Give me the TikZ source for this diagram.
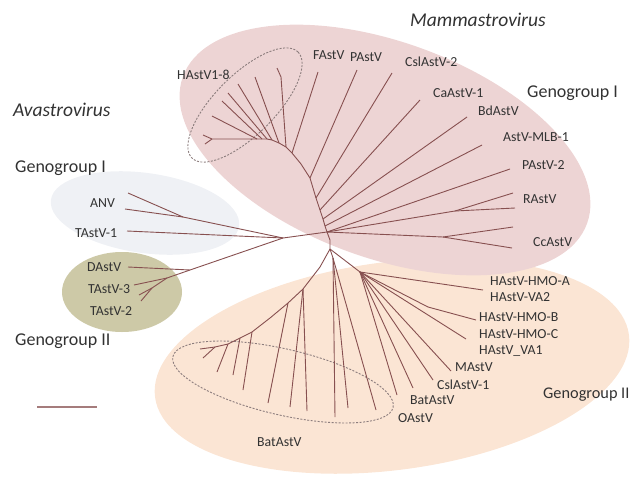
\documentclass[tikz,border=0pt]{standalone}
\usepackage{fontspec}
\setmainfont{Carlito}
\usepackage{tikz}
\usepackage{xcolor}
\definecolor{mamI}{RGB}{237,212,212}
\definecolor{mamII}{RGB}{251,229,212}
\definecolor{avaI}{RGB}{239,241,245}
\definecolor{avaII}{RGB}{205,201,167}
\definecolor{twig}{RGB}{135,80,80}
\definecolor{ink}{RGB}{50,50,50}
\definecolor{dashgray}{RGB}{140,125,125}

\begin{document}
\begin{tikzpicture}
  [x=1pt,y=-1pt,
   branch/.style={draw=twig,line width=0.9pt,line join=round},
   leaflab/.style={inner sep=0pt,text=ink,text depth=0pt,anchor=west,font=\fontsize{13.8}{15}\selectfont},
   group/.style={inner sep=0pt,text=ink,text depth=0pt,anchor=west,font=\fontsize{18}{20}\selectfont},
   genus/.style={group,font=\fontsize{19.5}{21}\selectfont\itshape},
   clade/.style={draw=dashgray,dash pattern=on 2pt off 1.5pt,line width=0.9pt},
  ]
  \useasboundingbox (0,0) rectangle (635,483);

  \fill[mamII,rotate around={7.5:(392,366)}] (392,366) ellipse [x radius=239pt,y radius=104pt];
  \fill[mamI,rotate around={-20:(385,150)}] (385,150) ellipse [x radius=215pt,y radius=108pt];
  \fill[avaI,rotate around={-8:(145,213)}] (145,213) ellipse [x radius=95pt,y radius=40pt];
  \fill[avaII] (122,292) ellipse [x radius=60pt,y radius=40pt];
  \draw[clade,rotate around={45:(245,105)}] (245,105) ellipse [x radius=75pt,y radius=30pt];
  \draw[clade,rotate around={-13:(283,382)}] (283,382) ellipse [x radius=113pt,y radius=33pt];

  % Mammastrovirus genogroup I
  \foreach \n/\x/\y in {hub/327/232, t1/325/226, t2/323/219, t3/320/210, t4/316/198,
      t5/310/178, t6/301/164, t7/292/153, t8/286/147, t9/279/143, t10/272/140,
      t11/267/139, t12/262/139, t13/257/139, yj/212/139, y1/203/135, y2/205/144,
      fa/318/72, pa/357/70, cs2/392/73, ca/420/100, bd/467/117, mlb/482/145,
      pa2/510/169, rf/455/211, ra1/513/193, ra2/515/208, cf/443/237, cc1/513/227,
      cc2/512/248, h1/212/116, h2/222/101, h3/228/93, h4/238/84, h5/255/77,
      k6/281/77, h6/277/68}
    \coordinate (\n) at (\x,\y);
  \draw[branch] (hub) -- (t1) -- (t2) -- (t3) -- (t4) -- (t5) -- (t6) -- (t7)
    -- (t8) -- (t9) -- (t10) -- (t11) -- (t12) -- (t13) -- (yj);
  \path[branch] (t7) edge (fa)  (t5) edge (pa)  (t4) edge (cs2)  (t3) edge (ca)
    (t2) edge (bd)  (t1) edge (mlb)  (hub) edge (pa2)
    (hub) edge (rf)  (rf) edge (ra1)  (rf) edge (ra2)
    (hub) edge (cf)  (cf) edge (cc1)  (cf) edge (cc2)
    (yj) edge (y1)  (yj) edge (y2)  (t13) edge (h1)  (t12) edge (h2)
    (t11) edge (h3)  (t10) edge (h4)  (t9) edge (h5);
  \draw[branch] (t8) -- (k6) -- (h6);

  % Avastrovirus
  \foreach \n/\x/\y in {a0/283/238, tk1/127/231, af/183/217, anv1/128/193,
      anv2/125/209, b1/190/270, dtip/128/267, b2/167/278, t3tip/134/285,
      b3/152/288, t2a/139/295, t2b/141/301}
    \coordinate (\n) at (\x,\y);
  \path[branch] (hub) edge (a0)  (a0) edge (tk1)  (a0) edge (af)  (af) edge (anv1)
    (af) edge (anv2)  (a0) edge (b1)  (b1) edge (dtip)  (b1) edge (b2)
    (b2) edge (t3tip)  (b2) edge (b3)  (b3) edge (t2a)  (b3) edge (t2b);

  % Mammastrovirus genogroup II
  \foreach \n/\x/\y in {hb/330/240, n1/330/249, n1a/333/258, lv1/335/417,
      lv2/348/408, lv3/376/410, n2/360/272, hmoA/483/290, sb/428/307, hmoB/476/320,
      hmoC/466/339, ma/451/371, cs1/433/380, bt/413/388, ba/397/395,
      s1/320/267, s2/303/289, s3/288/303, s3b/270/318, s4/252/332, s5/240/338,
      s6/228/344, s7/215/347, s8/200/349, q1/290/407, q2/307/411, q3/268/403,
      q4/243/390, q5/233/375, q6/217/372, q7/203/358}
    \coordinate (\n) at (\x,\y);
  \draw[branch] (hub) -- (hb) -- (n1) -- (n1a);
  \draw[branch] (n1) -- (s1) -- (s2) -- (s3) -- (s3b) -- (s4) -- (s5) -- (s6)
    -- (s7) -- (s8);
  \draw[branch] (n2) -- (sb) -- (hmoB);
  \path[branch] (n1a) edge (lv1)  (n1a) edge (lv2)  (n1a) edge (lv3)  (n1) edge (n2)
    (n2) edge (hmoA)  (n2) edge (hmoC)  (n2) edge (ma)  (n2) edge (cs1)
    (n2) edge (bt)  (n2) edge (ba)
    (s2) edge (q1)  (s2) edge (q2)  (s3) edge (q3)  (s4) edge (q4)
    (s5) edge (q5)  (s6) edge (q6)  (s7) edge (q7);

  % scale bar
  \coordinate (bar1) at (37,407);
  \coordinate (bar2) at (97,407);
  \draw[draw=twig!75,line width=1.1pt] (bar1) -- (bar2);

  \node[genus] (mam) at (410,20) {Mammastrovirus};
  \node[genus] (ava) at (13,110) {Avastrovirus};
  \node[group] (gmI) at (527,92) {Genogroup I};
  \node[group,font=\fontsize{16.3}{18}\selectfont] (gmII) at (543,393) {Genogroup II};
  \node[group] (gaI) at (15,167) {Genogroup I};
  \node[group] (gaII) at (15,340) {Genogroup II};

  \node[leaflab] (lh18) at (177,75) {HAstV1-8};
  \node[leaflab] (lfa) at (313,55) {FAstV};
  \node[leaflab] (lpa) at (350,57) {PAstV};
  \node[leaflab] (lcs2) at (405,62) {CslAstV-2};
  \node[leaflab] (lca) at (433,93) {CaAstV-1};
  \node[leaflab] (lbd) at (478,111) {BdAstV};
  \node[leaflab] (lmlb) at (503,137) {AstV-MLB-1};
  \node[leaflab] (lpa2) at (522,165) {PAstV-2};
  \node[leaflab] (lra) at (523,199) {RAstV};
  \node[leaflab] (lcc) at (533,242) {CcAstV};
  \node[leaflab] (lhmoA) at (490,281) {HAstV-HMO-A};
  \node[leaflab] (lva2) at (490,297) {HAstV-VA2};
  \node[leaflab] (lhmoB) at (479,317) {HAstV-HMO-B};
  \node[leaflab] (lhmoC) at (479,334) {HAstV-HMO-C};
  \node[leaflab] (lva1) at (479,350) {HAstV\_VA1};
  \node[leaflab] (lma) at (455,367) {MAstV};
  \node[leaflab] (lcs1) at (437,385) {CslAstV-1};
  \node[leaflab] (lba) at (410,400) {BatAstV};
  \node[leaflab] (loa) at (398,418) {OAstV};
  \node[leaflab] (lbat) at (257,442) {BatAstV};
  \node[leaflab] (lanv) at (90,203) {ANV};
  \node[leaflab] (ltk1) at (75,233) {TAstV-1};
  \node[leaflab] (lda) at (87,267) {DAstV};
  \node[leaflab] (ltk3) at (88,289) {TAstV-3};
  \node[leaflab] (ltk2) at (90,311) {TAstV-2};
\end{tikzpicture}
\end{document}
